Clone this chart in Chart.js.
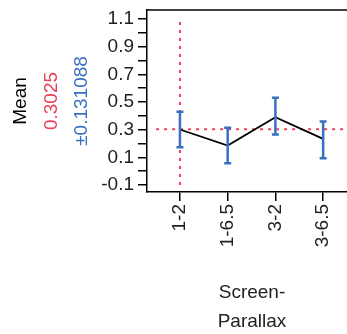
<!DOCTYPE html>
<html>
<head>
<meta charset="utf-8">
<script src="https://cdn.jsdelivr.net/npm/chart.js@4"></script>
<style>
  html, body { margin: 0; padding: 0; background: #fff; }
  #wrap { width: 347px; height: 334px; }
</style>
</head>
<body>
<div id="wrap"><canvas id="chart"></canvas></div>
<script>
const categories = ["1-2", "1-6.5", "3-2", "3-6.5"];
const means = [0.301, 0.185, 0.390, 0.233];
const upper = [0.429, 0.313, 0.530, 0.359];
const lower = [0.173, 0.057, 0.264, 0.093];
const yTicks = [-0.1, 0, 0.1, 0.2, 0.3, 0.4, 0.5, 0.6, 0.7, 0.8, 0.9, 1.0, 1.1];
const yTickLabels = ["-0.1", "", "0.1", "", "0.3", "", "0.5", "", "0.7", "", "0.9", "", "1.1"];
const grandMean = 0.3025;
const spread = "±0.131088";

const RED = "#e8415a";
const BLUE = "#3a70c0";
const FONT = "'Liberation Sans', Arial, sans-serif";

// error bars + frame top + axis titles
const extras = {
    id: "extras",
    afterDatasetsDraw(chart) {
        const { ctx, scales: { x, y } } = chart;
        ctx.save();
        ctx.strokeStyle = BLUE;
        ctx.lineWidth = 2.5;
        means.forEach((m, i) => {
            const px = x.getPixelForValue(i);
            const top = y.getPixelForValue(upper[i]);
            const bot = y.getPixelForValue(lower[i]);
            ctx.beginPath();
            ctx.moveTo(px, top); ctx.lineTo(px, bot);
            ctx.moveTo(px - 3.5, top); ctx.lineTo(px + 3.5, top);
            ctx.moveTo(px - 3.5, bot); ctx.lineTo(px + 3.5, bot);
            ctx.stroke();
        });
        ctx.restore();
    },
    afterDraw(chart) {
        const { ctx, chartArea } = chart;
        ctx.save();
        ctx.strokeStyle = "#000";
        ctx.lineWidth = 1.5;
        ctx.beginPath();
        ctx.moveTo(chartArea.left, chartArea.top);
        ctx.lineTo(chartArea.right, chartArea.top);
        ctx.stroke();

        ctx.font = "19px " + FONT;
        ctx.textAlign = "center";
        ctx.textBaseline = "middle";
        const cy = (chartArea.top + chartArea.bottom) / 2;
        [["Mean", "#000", 21], [String(grandMean), RED, 52], [spread, BLUE, 82]].forEach(([t, c, cx]) => {
            ctx.save();
            ctx.translate(cx, cy);
            ctx.rotate(-Math.PI / 2);
            ctx.fillStyle = c;
            ctx.fillText(t, 0, 0);
            ctx.restore();
        });
        ctx.fillStyle = "#222";
        ctx.fillText("Screen-", 252, 293);
        ctx.fillText("Parallax", 252, 322);
        ctx.restore();
    }
};

new Chart(document.getElementById("chart"), {
    type: "line",
    data: {
        datasets: [
            {
                data: means.map((m, i) => ({ x: i, y: m })),
                borderColor: "#000",
                borderWidth: 1.8,
                pointRadius: 0,
                tension: 0,
                order: 1
            },
            {
                data: [{ x: -0.5, y: grandMean }, { x: 3.6, y: grandMean }],
                borderColor: RED,
                borderWidth: 2,
                borderDash: [3, 5],
                pointRadius: 0,
                order: 3
            },
            {
                data: [{ x: 0, y: -0.1 }, { x: 0, y: 1.1 }],
                borderColor: RED,
                borderWidth: 2,
                borderDash: [3, 5],
                pointRadius: 0,
                order: 3
            }
        ]
    },
    options: {
        responsive: true,
        maintainAspectRatio: false,
        animation: false,
        layout: { padding: { top: 10, right: 0, left: 0, bottom: 0 } },
        plugins: { legend: { display: false }, tooltip: { enabled: false } },
        scales: {
            x: {
                type: "linear",
                min: -0.69,
                max: 3.5,
                afterBuildTicks: (s) => { s.ticks = categories.map((c, i) => ({ value: i })); },
                afterFit: (s) => { s.height = 142; s.paddingLeft = 0; s.paddingRight = 0; },
                grid: { drawOnChartArea: false, tickLength: 9, color: "#000", lineWidth: 1.5 },
                border: { color: "#000", width: 1.5 },
                ticks: {
                    color: "#222",
                    font: { size: 19, family: FONT },
                    minRotation: 90,
                    maxRotation: 90,
                    padding: 3,
                    callback: (v) => categories[v]
                }
            },
            y: {
                min: -0.151,
                max: 1.165,
                afterBuildTicks: (s) => { s.ticks = yTicks.map(v => ({ value: v })); },
                afterFit: (s) => { s.width = 147; s.paddingTop = 0; s.paddingBottom = 0; },
                grid: { drawOnChartArea: false, tickLength: 9, color: "#000", lineWidth: 1.5 },
                border: { color: "#000", width: 1.5 },
                ticks: {
                    color: "#222",
                    font: { size: 19, family: FONT },
                    padding: 4,
                    autoSkip: false,
                    callback: (v, i) => yTickLabels[i]
                }
            }
        }
    },
    plugins: [extras]
});
</script>
</body>
</html>
